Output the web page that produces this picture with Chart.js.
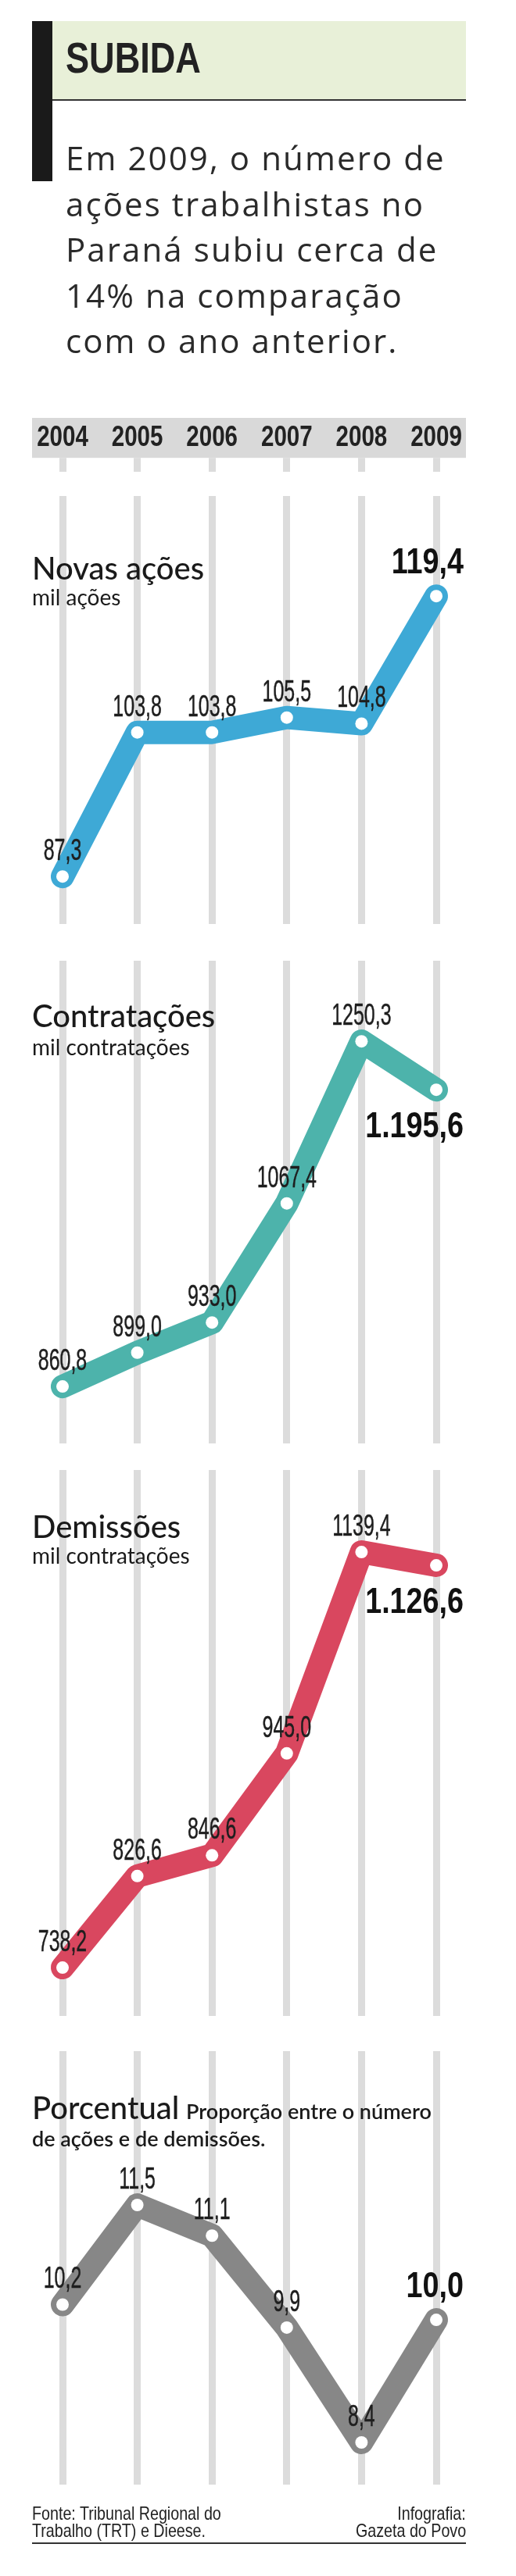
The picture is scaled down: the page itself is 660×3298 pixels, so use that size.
<!DOCTYPE html>
<html>
<head>
<meta charset="utf-8">
<script src="https://cdn.jsdelivr.net/npm/chart.js@4/dist/chart.umd.min.js"></script>
<style>
  html, body { margin: 0; padding: 0; background: #fff; }
  #page { position: relative; width: 660px; height: 3298px; overflow: hidden; background: #fff; }
  #chart { position: absolute; left: 0; top: 0; z-index: 0; }
  .t { position: absolute; white-space: nowrap; z-index: 2; line-height: 1; color: #1a1a1a; }
  .title { font-family: Lato, 'Open Sans', sans-serif; font-size: 40px; font-weight: 500; }
  .sub { font-family: Lato, 'Open Sans', sans-serif; font-size: 28px; font-weight: 400; }
  .para { font-family: 'Open Sans', sans-serif; font-size: 42px; font-weight: 400; letter-spacing: 2.1px; color: #2a2a2a; }
  .narrow { font-family: 'Liberation Sans', Arial, sans-serif; transform: scaleX(0.82); transform-origin: 0 50%; }
  .narrow.r { transform-origin: 100% 50%; }
  .foot { font-size: 24px; color: #222; }
</style>
</head>
<body>
<div id="page">
  <div style="position:absolute;left:41px;top:27px;width:26px;height:205px;background:#1a1a1a;"></div>
  <div style="position:absolute;left:67px;top:27px;width:529px;height:100px;background:#e8f0d8;border-bottom:2px solid #333;"></div>

  <div class="t narrow" data-x="84" data-b="93" style="font-size:55px;font-weight:bold;color:#222;">SUBIDA</div>

  <div class="t para" data-x="84" data-b="218">Em 2009, o número de</div>
  <div class="t para" data-x="84" data-b="276.5">ações trabalhistas no</div>
  <div class="t para" data-x="84" data-b="335">Paraná subiu cerca de</div>
  <div class="t para" data-x="84" data-b="393.5">14% na comparação</div>
  <div class="t para" data-x="84" data-b="452">com o ano anterior.</div>

  <div class="t title" data-x="41" data-b="742">Novas ações</div>
  <div class="t sub" data-x="41" data-b="775">mil ações</div>

  <div class="t title" data-x="41" data-b="1315">Contratações</div>
  <div class="t sub" data-x="41" data-b="1351">mil contratações</div>

  <div class="t title" data-x="41" data-b="1969">Demissões</div>
  <div class="t sub" data-x="41" data-b="2002">mil contratações</div>

  <div class="t title" data-x="41" data-b="2713">Porcentual</div>
  <div class="t sub" data-x="238" data-b="2713" style="font-size:27px;font-weight:600;">Proporção entre o número</div>
  <div class="t sub" data-x="41" data-b="2748" style="font-size:27px;font-weight:600;">de ações e de demissões.</div>

  <div class="t narrow foot" data-x="41" data-b="3226">Fonte: Tribunal Regional do</div>
  <div class="t narrow foot" data-x="41" data-b="3248">Trabalho (TRT) e Dieese.</div>
  <div class="t narrow foot r" data-r="596" data-b="3226">Infografia:</div>
  <div class="t narrow foot r" data-r="596" data-b="3248">Gazeta do Povo</div>
  <div style="position:absolute;left:41px;top:3255px;width:555px;height:2px;background:#333;"></div>

  <canvas id="chart" width="660" height="3298" style="width:660px;height:3298px;"></canvas>
</div>

<script>
// ---------------- DATA ----------------
const years = ['2004', '2005', '2006', '2007', '2008', '2009'];
const novasAcoes = [87.3, 103.8, 103.8, 105.5, 104.8, 119.4];
const contratacoes = [860.8, 899.0, 933.0, 1067.4, 1250.3, 1195.6];
const demissoes = [738.2, 826.6, 846.6, 945.0, 1139.4, 1126.6];
const porcentual = [10.2, 11.5, 11.1, 9.9, 8.4, 10.0];
const lastLabelBelow = [false, true, true, false];

// ---------------- STYLE ----------------
const SANS = "'Liberation Sans', Arial, sans-serif";
const GRID = '#dcdcdc';
const colors = ['#3ea9d6', '#4db3ab', '#d9475f', '#878787'];
const YEAR_SCALE_X = 0.82;
const LABEL_SCALE_X = 0.64;
const BOLD_SCALE_X = 0.82;

function fmt(v, thousands) {
  const s = v.toFixed(1).replace('.', ',');
  if (!thousands) return s;
  const parts = s.split(',');
  return parts[0].replace(/\B(?=(\d{3})+(?!\d))/g, '.') + ',' + parts[1];
}

// place HTML texts by baseline
function placeTexts() {
  document.querySelectorAll('.t').forEach(el => {
    const b = +el.dataset.b;
    el.style.top = '0px';
    if (el.dataset.x !== undefined) el.style.left = el.dataset.x + 'px';
    if (el.dataset.r !== undefined) el.style.right = (660 - +el.dataset.r) + 'px';
    const probe = document.createElement('span');
    probe.style.cssText = 'display:inline-block;width:0;height:0;vertical-align:baseline;';
    el.appendChild(probe);
    const off = probe.offsetTop;
    el.removeChild(probe);
    el.style.top = (b - off) + 'px';
  });
}
placeTexts();
if (document.fonts && document.fonts.ready) document.fonts.ready.then(placeTexts);

// ---------------- CONDENSED CATEGORY AXIS ----------------
class CondensedCategoryScale extends Chart.CategoryScale {
  drawLabels(chartArea) {
    if (!this.options.ticks.display) return;
    const ctx = this.ctx;
    const items = this.getLabelItems(chartArea);
    for (const item of items) {
      const o = item.options;
      ctx.save();
      ctx.translate(o.translation[0], o.translation[1]);
      if (o.rotation) ctx.rotate(o.rotation);
      ctx.scale(YEAR_SCALE_X, 1);
      ctx.font = item.font.string;
      ctx.fillStyle = o.color;
      ctx.textAlign = o.textAlign;
      ctx.textBaseline = o.textBaseline;
      const lines = Array.isArray(item.label) ? item.label : [item.label];
      let y = item.textOffset;
      for (const line of lines) { ctx.fillText(line, 0, y); y += item.font.lineHeight; }
      ctx.restore();
    }
  }
}
CondensedCategoryScale.id = 'condensedCategory';
Chart.register(CondensedCategoryScale);

// ---------------- PLUGINS ----------------
const bandPlugin = {
  id: 'band',
  beforeDraw(chart) {
    const x = chart.scales.x;
    const ctx = chart.ctx;
    ctx.save();
    ctx.fillStyle = '#d9d9d9';
    const tl = x.options.grid.tickLength;
    ctx.fillRect(x.left - 39, x.top, (x.right + 38) - (x.left - 39), (x.bottom - tl) - x.top);
    ctx.restore();
  }
};

const gapPlugin = {
  id: 'gaps',
  beforeDatasetsDraw(chart, args, opts) {
    const ctx = chart.ctx;
    const a = chart.chartArea;
    ctx.save();
    ctx.fillStyle = '#ffffff';
    (opts.gaps || []).forEach(g => {
      ctx.fillRect(a.left - 20, g[0], a.right - a.left + 40, g[1] - g[0]);
    });
    ctx.restore();
  }
};

const valueLabels = {
  id: 'valueLabels',
  afterDatasetsDraw(chart) {
    const ctx = chart.ctx;
    chart.data.datasets.forEach((ds, di) => {
      const meta = chart.getDatasetMeta(di);
      const n = ds.data.length;
      meta.data.forEach((pt, i) => {
        const v = ds.data[i];
        ctx.save();
        ctx.textBaseline = 'alphabetic';
        if (i === n - 1) {
          ctx.fillStyle = '#111';
          ctx.font = 'bold 46px ' + SANS;
          ctx.textAlign = 'right';
          const y = lastLabelBelow[di] ? pt.y + 61 : pt.y - 29;
          ctx.translate(pt.x + 35, y);
          ctx.scale(BOLD_SCALE_X, 1);
          ctx.fillText(fmt(v, true), 0, 0);
        } else {
          ctx.fillStyle = '#1e1e1e';
          ctx.strokeStyle = '#1e1e1e';
          ctx.lineWidth = 0.5;
          ctx.lineJoin = 'round';
          ctx.font = '39px ' + SANS;
          ctx.textAlign = 'center';
          ctx.translate(pt.x, pt.y - 21);
          ctx.scale(LABEL_SCALE_X, 1);
          const s = fmt(v, false);
          ctx.fillText(s, 0, 0);
          ctx.strokeText(s, 0, 0);
        }
        ctx.restore();
      });
    });
  }
};

// ---------------- CHART ----------------
function lineDs(data, color, axis) {
  return {
    data: data,
    yAxisID: axis,
    borderColor: color,
    backgroundColor: color,
    borderWidth: 30,
    borderCapStyle: 'round',
    borderJoinStyle: 'round',
    pointRadius: 8,
    pointHoverRadius: 8,
    pointBackgroundColor: '#ffffff',
    pointBorderWidth: 0,
    tension: 0,
    fill: false,
    clip: false
  };
}

function hiddenY(weight, stackWeight, min, max) {
  return {
    type: 'linear', position: 'left', stack: 'panels', stackWeight: stackWeight, weight: weight,
    min: min, max: max, bounds: 'data',
    grid: { display: false, drawTicks: false },
    border: { display: false },
    ticks: { display: false }
  };
}

new Chart(document.getElementById('chart'), {
  type: 'line',
  data: {
    labels: years,
    datasets: [
      lineDs(novasAcoes, colors[0], 'y1'),
      lineDs(contratacoes, colors[1], 'y2'),
      lineDs(demissoes, colors[2], 'y3'),
      lineDs(porcentual, colors[3], 'y4')
    ]
  },
  options: {
    responsive: false,
    devicePixelRatio: 1,
    animation: false,
    events: [],
    layout: { padding: { left: 80, right: 102, top: 535, bottom: 117 } },
    plugins: {
      legend: { display: false },
      tooltip: { enabled: false },
      gaps: { gaps: [[604, 635], [1183, 1230], [1848, 1882], [2581, 2626]] }
    },
    scales: {
      x: {
        type: 'condensedCategory', position: 'top', offset: false,
        grid: { color: GRID, lineWidth: 9, drawTicks: true, tickLength: 18, tickWidth: 9, tickColor: GRID },
        border: { display: false },
        ticks: {
          font: { family: SANS, size: 36, weight: 'bold', lineHeight: 1.2 },
          color: '#222', padding: 4, maxRotation: 0, autoSkip: false
        }
      },
      y1: hiddenY(4, 602, 79.79, 133.617),
      y2: hiddenY(3, 660, 780.61, 1362.215),
      y3: hiddenY(2, 737, 674.85, 1230.65),
      y4: hiddenY(1, 578, 7.849, 13.7435)
    }
  },
  plugins: [bandPlugin, gapPlugin, valueLabels]
});
</script>
</body>
</html>
